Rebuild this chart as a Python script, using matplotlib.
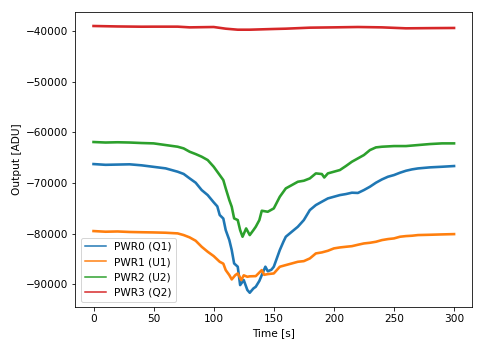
import numpy as np
import matplotlib
matplotlib.use('Agg')
import matplotlib.pyplot as plt

# Readings (time in s, output in ADU)
t_pwr0 = [0, 10, 20, 30, 40, 50, 60, 70, 75, 80, 85, 90, 95, 100, 103, 105,
          108, 110, 113, 115, 117, 120, 122, 125, 128, 130, 133, 135, 138,
          140, 143, 145, 148, 150, 152, 155, 158, 160, 165, 170, 175, 180,
          185, 190, 195, 200, 205, 210, 215, 220, 225, 230, 235, 240, 245,
          250, 255, 260, 265, 270, 280, 290, 300]
pwr0 = [-66250, -66400, -66350, -66300, -66500, -66800, -67100, -67760,
        -68200, -69080, -69930, -71380, -72370, -73800, -74600, -76300,
        -77000, -79280, -81250, -83220, -85860, -86500, -90130, -89140,
        -91100, -91640, -90800, -90460, -89300, -88160, -86500, -87400,
        -87100, -86510, -85200, -83220, -81580, -80590, -79600, -78620,
        -77300, -75330, -74340, -73680, -73030, -72700, -72370, -72170,
        -71900, -71950, -71380, -70720, -69930, -69280, -68750, -68420,
        -67960, -67570, -67300, -67110, -66900, -66780, -66640]

t_pwr1 = [0, 10, 20, 30, 40, 50, 60, 70, 75, 80, 85, 90, 95, 100, 105, 108,
          110, 113, 115, 118, 120, 123, 125, 128, 130, 135, 140, 142, 145,
          150, 155, 160, 165, 170, 175, 180, 185, 190, 195, 200, 205, 210,
          215, 220, 225, 230, 235, 240, 245, 250, 255, 260, 265, 270, 280,
          290, 300]
pwr1 = [-79470, -79600, -79550, -79650, -79700, -79740, -79800, -79930,
        -80260, -80720, -81380, -82570, -83550, -84410, -85530, -85900,
        -87170, -88160, -89010, -88160, -87830, -89140, -88200, -88490,
        -88400, -88360, -87170, -88100, -87960, -87830, -86510, -86180,
        -85860, -85530, -85400, -84870, -83880, -83680, -83360, -82890,
        -82700, -82570, -82450, -82170, -81910, -81780, -81580, -81250,
        -81050, -80920, -80590, -80460, -80390, -80260, -80200, -80130,
        -80070]

t_pwr2 = [0, 10, 20, 30, 40, 50, 60, 70, 75, 80, 85, 90, 95, 100, 105, 108,
          110, 113, 115, 117, 120, 122, 124, 127, 130, 133, 135, 138, 140,
          145, 150, 155, 160, 165, 170, 175, 180, 185, 190, 192, 195, 200,
          205, 210, 215, 220, 225, 230, 235, 240, 250, 260, 270, 280, 290,
          300]
pwr2 = [-61900, -62000, -61950, -62000, -62100, -62170, -62500, -62830,
        -63160, -63820, -64280, -64800, -65460, -66780, -68420, -69410,
        -71050, -73360, -74670, -76970, -77300, -79280, -80590, -78950,
        -80260, -79300, -78620, -77300, -75460, -75660, -75000, -72700,
        -71050, -70400, -69740, -69540, -69080, -68090, -68220, -68900,
        -68090, -67760, -67430, -66640, -65790, -65130, -64470, -63490,
        -62960, -62830, -62700, -62700, -62500, -62300, -62170, -62170]

t_pwr3 = [0, 20, 40, 50, 60, 70, 80, 100, 110, 120, 130, 140, 150, 160, 180,
          200, 220, 240, 260, 280, 300]
pwr3 = [-39010, -39100, -39150, -39140, -39140, -39140, -39280, -39210,
        -39540, -39740, -39740, -39670, -39600, -39540, -39340, -39280,
        -39210, -39280, -39470, -39430, -39400]

labels = ['PWR0 (Q1)', 'PWR1 (U1)', 'PWR2 (U2)', 'PWR3 (Q2)']
colors = ['#1f77b4', '#ff7f0e', '#2ca02c', '#d62728']

plt.rcParams['font.size'] = 10.5
fig = plt.figure(figsize=(483 / 72, 347 / 72), dpi=72)
ax = fig.add_axes([0.1563, 0.1153, 0.8211, 0.8501])

series = [(t_pwr0, pwr0), (t_pwr1, pwr1), (t_pwr2, pwr2), (t_pwr3, pwr3)]
for (t, y), label, c in zip(series, labels, colors):
    ax.plot(t, y, color=c, lw=2.6, label=label)

ax.set_xlim(-15, 315)
ax.set_ylim(-94450, -36250)
ax.set_xlabel('Time [s]')
ax.set_ylabel('Output [ADU]')

leg = ax.legend(loc='lower left')
for line in leg.get_lines():
    line.set_linewidth(1.5)

fig.savefig('out.png', dpi=72)
